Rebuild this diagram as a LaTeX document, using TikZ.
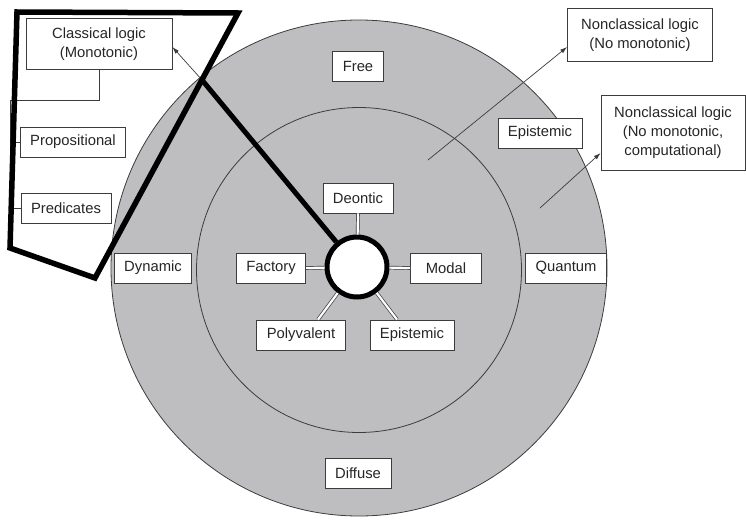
\documentclass[tikz,border=0pt]{standalone}
\usepackage{fontspec}
\setmainfont{Liberation Sans}
\usetikzlibrary{arrows.meta}
\definecolor{ringgray}{RGB}{190,190,192}
\definecolor{inkgray}{RGB}{60,60,60}
\begin{document}
\begin{tikzpicture}[x=1pt, y=-1pt,
    lbox/.style={draw=inkgray, line width=0.8pt, fill=white, text=black!85,
      font=\fontsize{14.8}{19}\selectfont, align=center,
      inner xsep=10pt, inner ysep=5pt, minimum height=30pt},
    ring/.style={circle, draw=inkgray, line width=0.8pt, fill=ringgray},
    dbl/.style={draw=inkgray, line width=0.7pt, double=white, double distance=2.2pt},
    pointer/.style={draw=inkgray, line width=0.7pt, -{Latex[length=7pt,width=4.5pt]}}]
  \useasboundingbox (0,0) rectangle (746,519);

  % rings
  \node[ring, minimum size=496pt] (outer) at (359,268) {};
  \node[ring, minimum size=325pt] (inner) at (359,270) {};

  % outer ring
  \node[lbox] (free) at (358,66) {Free};
  \node[lbox] (dynamic) at (153,268) {Dynamic};
  \node[lbox] (quantum) at (566,268) {Quantum};
  \node[lbox] (diffuse) at (358,473) {Diffuse};
  \node[lbox] (epiout) at (540,133) {Epistemic};

  % inner ring
  \node[circle, draw=black, line width=5pt, fill=white, minimum size=60pt] (hub) at (357,267) {};
  \node[lbox] (deontic) at (358,198) {Deontic};
  \node[lbox] (factory) at (271,268) {Factory};
  \node[lbox, minimum width=71pt] (modal) at (446,268) {Modal};
  \node[lbox] (poly) at (301,335) {Polyvalent};
  \node[lbox] (epiin) at (412,335) {Epistemic};

  \draw[dbl] (hub) -- (deontic.south);
  \draw[dbl] (hub) -- (factory.east);
  \draw[dbl] (hub) -- (modal.west);
  \draw[dbl] (hub) -- ([xshift=17pt]poly.north);
  \draw[dbl] (hub) -- ([xshift=-15pt]epiin.north);

  % nonclassical
  \node[lbox, minimum width=145pt, minimum height=53pt] (nca) at (640,35)
    {Nonclassical logic\\(No monotonic)};
  \node[lbox, minimum width=144pt, minimum height=75pt] (ncb) at (673,133)
    {Nonclassical logic\\(No monotonic,\\computational)};
  \coordinate (ea) at (428,160);
  \coordinate (eb) at (540,208);
  \draw[pointer] (ea) -- ([yshift=-12pt]nca.west);
  \draw[pointer] (eb) -- ([yshift=-20pt]ncb.west);

  % classical
  \node[lbox, minimum width=146pt, minimum height=51pt] (classical) at (99,44)
    {Classical logic\\(Monotonic)};
  \node[lbox] (prop) at (73,142) {Propositional};
  \node[lbox] (pred) at (66,208) {Predicates};
  \coordinate (branch) at (10,100);
  \draw[inkgray, line width=0.8pt] (classical.south) |- (branch);
  \draw[inkgray, line width=0.8pt] (branch) |- (prop.west);
  \draw[inkgray, line width=0.8pt] (branch) |- (pred.west);

  \coordinate (kink) at (202,80);
  \draw[pointer] (kink) -- ([yshift=-3pt]classical.east);
  \draw[line width=5.5pt] (17,12) -- (238,13) -- (95,278) -- (10,248) -- cycle;
  \draw[line width=5pt] (kink) -- (hub);
\end{tikzpicture}
\end{document}
